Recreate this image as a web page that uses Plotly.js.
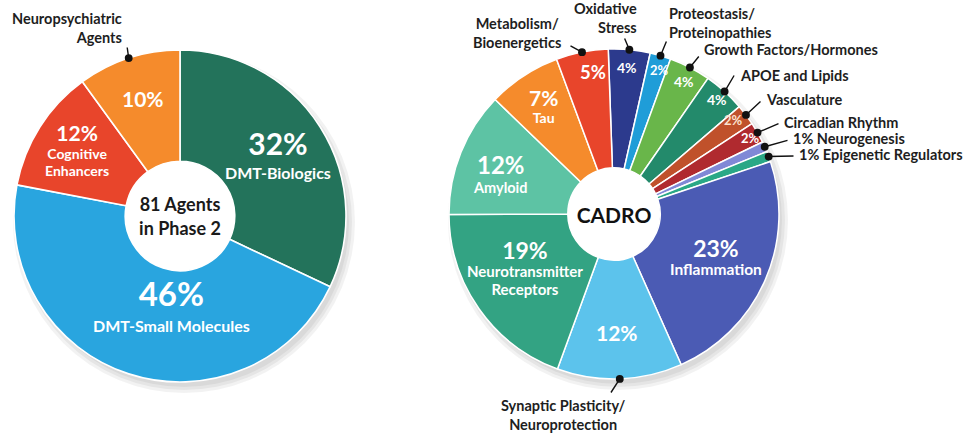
<!DOCTYPE html>
<html>
<head>
<meta charset="utf-8">
<script src="https://cdn.plot.ly/plotly-3.0.1.min.js"></script>
<style>
  html, body { margin: 0; padding: 0; background: #fff; }
  #chart { width: 963px; height: 436px; }
</style>
</head>
<body>
<div id="chart"></div>
<script>
// Phase 2 agents by class (left) and by CADRO target (right)
var leftLabels = ['DMT-Biologics', 'DMT-Small Molecules', 'Cognitive Enhancers', 'Neuropsychiatric Agents'];
var leftValues = [32, 46, 12, 10];
var leftColors = ['#23735b', '#29a5df', '#e8452b', '#f58b2c'];
var leftCenterText = '81 Agents<br>in Phase 2';

var rightLabels = ['Oxidative Stress', 'Proteostasis/Proteinopathies', 'Growth Factors/Hormones',
  'APOE and Lipids', 'Vasculature', 'Circadian Rhythm', 'Neurogenesis', 'Epigenetic Regulators',
  'Inflammation', 'Synaptic Plasticity/Neuroprotection', 'Neurotransmitter Receptors',
  'Amyloid', 'Tau', 'Metabolism/Bioenergetics'];
var rightValues = [4, 2, 4, 4, 2, 2, 1, 1, 23, 12, 19, 12, 7, 5];
var rightColors = ['#2c3a8d', '#1f9dd8', '#69b64a', '#238a6b', '#c0512b', '#b02a2f', '#8088d6',
  '#2aa886', '#4b5bb4', '#5cc3ec', '#33a383', '#5dc3a4', '#f58b2c', '#e8452b'];
var rightCenterText = 'CADRO';

var W = 963, H = 436;
var FONT = 'Lato, "Open Sans", sans-serif';

// pie geometry in pixels
var L = {cx: 180, cy: 216, r: 166, rot: 0, hole: 0.33};
var R = {cx: 614, cy: 214, r: 165, rot: -2, hole: 0.28};

function domainOf(g, dx, dy, r) {
  dx = dx || 0; dy = dy || 0; r = r || g.r;
  var cx = g.cx + dx, cy = g.cy + dy;
  return {
    x: [(cx - r) / W, (cx + r) / W],
    y: [1 - (cy + r) / H, 1 - (cy - r) / H]
  };
}

// point on the rim at the middle of slice i
function rimPoint(values, g, i) {
  var total = values.reduce(function(a, b) { return a + b; }, 0);
  var before = 0;
  for (var j = 0; j < i; j++) before += values[j];
  var ang = (g.rot + (before + values[i] / 2) / total * 360) * Math.PI / 180;
  return [g.cx + g.r * Math.sin(ang), g.cy - g.r * Math.cos(ang)];
}

var annotations = [];

function label(px, py, text, size, color, opts) {
  var a = {
    x: px / W, y: 1 - py / H, xref: 'paper', yref: 'paper',
    text: text, showarrow: false,
    font: {family: FONT, size: size, color: color, weight: 'bold'},
    xanchor: 'center', yanchor: 'middle', align: 'center'
  };
  for (var k in opts) a[k] = opts[k];
  annotations.push(a);
}

// stacked lines of different sizes in one annotation; base sets the line gap
function block(px, py, lines, base) {
  var txt = lines.map(function(l) {
    return '<span style="font-size:' + l[1] + 'px">' + l[0] + '</span>';
  }).join('<br>');
  label(px, py, txt, base, '#fff');
}

function leader(values, g, i, tx, ty) {
  var p = rimPoint(values, g, i);
  annotations.push({
    x: p[0] / W, y: 1 - p[1] / H, xref: 'paper', yref: 'paper',
    ax: tx - p[0], ay: ty - p[1], text: '', showarrow: true,
    arrowhead: 6, arrowsize: 1.4, arrowwidth: 1.4, arrowcolor: '#111', standoff: 0
  });
}

function pct(values, i) { return values[i] + '%'; }

var DARK = '#1e1e1e';
var OUT = 14.5;

// left pie labels
block(278, 153, [[pct(leftValues, 0), 30], ['DMT-Biologics', 16]], 18.5);
block(171, 304, [[pct(leftValues, 1), 33], ['DMT-Small Molecules', 16]], 20);
block(77, 149, [[pct(leftValues, 2), 21], ['Cognitive', 14], ['Enhancers', 14]], 13.5);
label(143, 98, pct(leftValues, 3), 21, '#fff');
label(124, 28, 'Neuropsychiatric<br>Agents', OUT, DARK, {xanchor: 'right', align: 'right'});
leader(leftValues, L, 3, 127, 46);

// right pie inside labels
label(627, 68, pct(rightValues, 0), 14, '#fff');
label(659, 70, pct(rightValues, 1), 13, '#fff');
label(684, 82, pct(rightValues, 2), 14, '#fff');
label(717, 99, pct(rightValues, 3), 14, '#fff');
label(733, 120, pct(rightValues, 4), 13, '#fbe3cf');
label(750, 138, pct(rightValues, 5), 13, '#fff');
block(716, 256, [[pct(rightValues, 8), 23], ['Inflammation', 15.5]], 14);
label(617, 332, pct(rightValues, 9), 21, '#fff');
block(525, 267, [[pct(rightValues, 10), 23], ['Neurotransmitter', 15], ['Receptors', 15]], 14);
block(500, 173, [[pct(rightValues, 11), 24], ['Amyloid', 14.5]], 14.5);
block(543, 105, [[pct(rightValues, 12), 21], ['Tau', 14]], 13);
label(593, 72, pct(rightValues, 13), 18.5, '#fff');

// right pie outside labels with leaders
label(563, 33, 'Metabolism/<br>Bioenergetics', OUT, DARK, {xanchor: 'right', align: 'center'});
leader(rightValues, R, 13, 569, 45);
label(639, 18, 'Oxidative<br>Stress', OUT, DARK, {xanchor: 'right', align: 'right'});
leader(rightValues, R, 0, 624, 37);
label(667, 23, 'Proteostasis/<br>Proteinopathies', OUT, DARK, {xanchor: 'left', align: 'left'});
leader(rightValues, R, 1, 667, 40);
label(702, 50, 'Growth Factors/Hormones', OUT, DARK, {xanchor: 'left'});
leader(rightValues, R, 2, 700, 55);
label(738, 75, 'APOE and Lipids', OUT, DARK, {xanchor: 'left'});
leader(rightValues, R, 3, 735, 74);
label(764, 99, 'Vasculature', OUT, DARK, {xanchor: 'left'});
leader(rightValues, R, 4, 762, 100);
label(782, 122, 'Circadian Rhythm', OUT, DARK, {xanchor: 'left'});
leader(rightValues, R, 5, 780, 123);
label(791, 139, pct(rightValues, 6) + ' ' + rightLabels[6], OUT, DARK, {xanchor: 'left'});
leader(rightValues, R, 6, 789, 140);
label(797, 155, pct(rightValues, 7) + ' ' + rightLabels[7], OUT, DARK, {xanchor: 'left'});
leader(rightValues, R, 7, 795, 156);
label(563, 415, 'Synaptic Plasticity/<br>Neuroprotection', OUT, DARK);
leader(rightValues, R, 9, 610, 394);

// soft drop shadow under each pie, then a white disc so the hole stays clean
function shadows(g) {
  var out = [-1, 2, 5].map(function(dr) {
    return {
      type: 'pie', values: [1], labels: [''], sort: false,
      marker: {colors: ['rgba(0,0,0,0.05)'], line: {width: 0}},
      textinfo: 'none', hoverinfo: 'skip',
      domain: domainOf(g, 4, 6, g.r + dr)
    };
  });
  out.push({
    type: 'pie', values: [1], labels: [''], sort: false,
    marker: {colors: ['#fff'], line: {width: 0}},
    textinfo: 'none', hoverinfo: 'skip',
    domain: domainOf(g, 0, 0, g.r * g.hole + 1)
  });
  return out;
}

var traces = shadows(L).concat(shadows(R)).concat([
  {
    type: 'pie', labels: leftLabels, values: leftValues, sort: false,
    direction: 'clockwise', rotation: L.rot, hole: L.hole,
    marker: {colors: leftColors, line: {color: '#fff', width: 1.6}},
    textinfo: 'none', hoverinfo: 'label+percent',
    domain: domainOf(L),
    title: {text: leftCenterText, position: 'middle center',
      font: {family: FONT, size: 18, color: '#1a1a1a', weight: 'bold'}}
  },
  {
    type: 'pie', labels: rightLabels, values: rightValues, sort: false,
    direction: 'clockwise', rotation: R.rot, hole: R.hole,
    marker: {colors: rightColors, line: {color: '#fff', width: 1.5}},
    textinfo: 'none', hoverinfo: 'label+percent',
    domain: domainOf(R),
    title: {text: rightCenterText, position: 'middle center',
      font: {family: FONT, size: 21, color: '#111', weight: 'bold'}}
  }
]);

var layout = {
  width: W, height: H,
  margin: {l: 0, r: 0, t: 0, b: 0},
  paper_bgcolor: '#fff',
  showlegend: false,
  annotations: annotations
};

Plotly.newPlot('chart', traces, layout, {displayModeBar: false, staticPlot: true});
</script>
</body>
</html>
